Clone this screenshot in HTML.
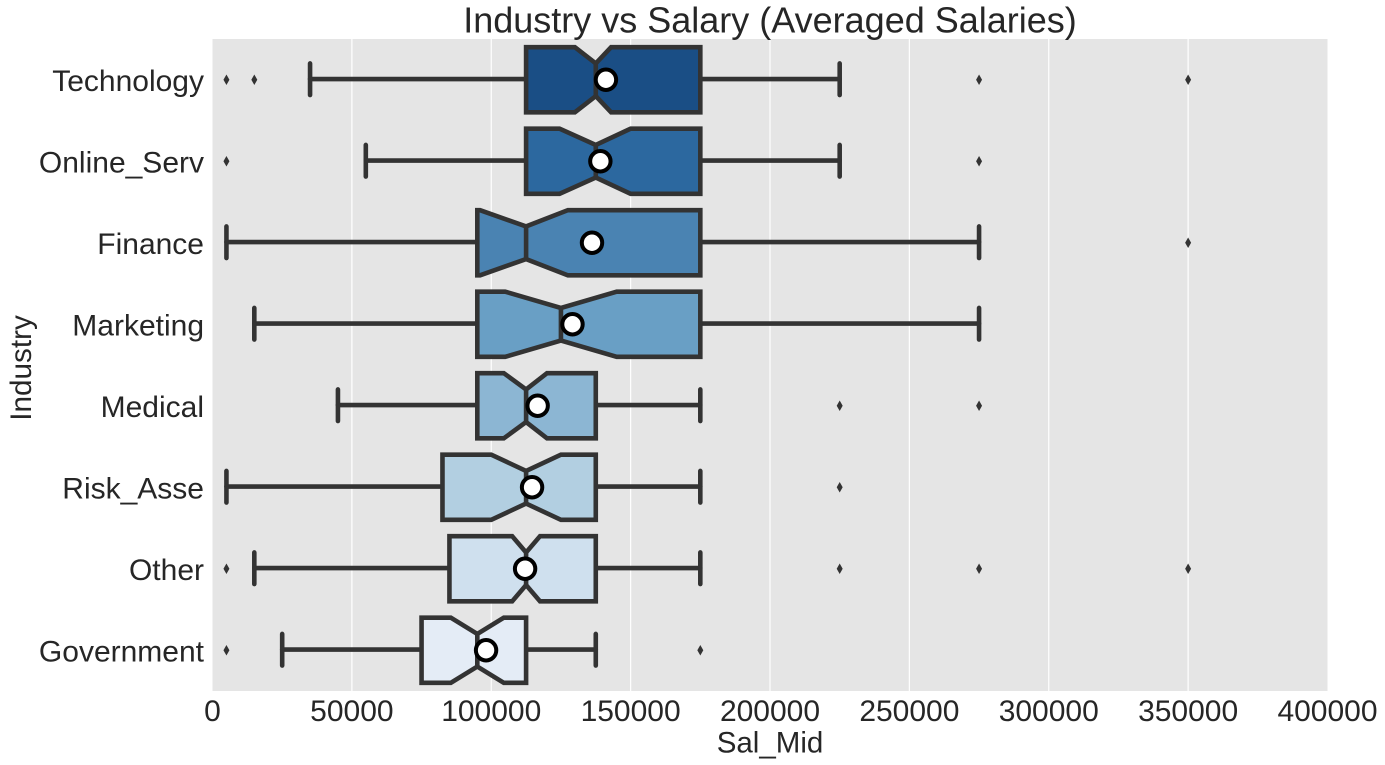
<!DOCTYPE html>
<html lang="en">
<head>
<meta charset="utf-8">
<title>Industry vs Salary (Averaged Salaries)</title>
<style>
html,body{margin:0;padding:0;background:#fff;}
svg{display:block;font-family:"Liberation Sans",Arial,sans-serif;}
</style>
</head>
<body>
<svg id="chart" width="1385" height="765" viewBox="0 0 1385 765" xmlns="http://www.w3.org/2000/svg"></svg>
<script>
const categories = ['Technology','Online_Serv','Finance','Marketing','Medical','Risk_Asse','Other','Government'];
const whiskerLow  = [35000,55000,5000,15000,45000,5000,15000,25000];
const q1Values    = [112500,112500,95000,95000,95000,82500,85000,75000];
const notchLow    = [130000,124500,96000,105000,104500,100000,107500,85500];
const medians     = [137500,137500,112500,125000,112500,112500,112500,95000];
const notchHigh   = [143000,150000,127500,145000,120000,125000,117500,104500];
const q3Values    = [175000,175000,175000,175000,137500,137500,137500,112500];
const whiskerHigh = [225000,225000,275000,275000,175000,175000,175000,137500];
const means       = [141000,139000,136000,129000,116500,114500,112000,98000];
const fliers      = [[5000,15000,275000,350000],[5000,275000],[350000],[],[225000,275000],[225000],[5000,225000,275000,350000],[5000,175000]];
const boxColors   = ['#1a4e85','#2c689f','#4a83b2','#699fc5','#8cb6d3','#b2cfe1','#cfe0ee','#e4ecf6'];
const xTicks      = [0,50000,100000,150000,200000,250000,300000,350000,400000];

const plotLeft = 212.5, plotRight = 1327.5, plotTop = 39, plotBottom = 691;
const xMax = 400000;
const bandHeight = (plotBottom - plotTop) / categories.length;
const lineColor = '#333333';
const lineWidth = 4.6;
const NS = 'http://www.w3.org/2000/svg';
const svg = document.getElementById('chart');

function xScale(v){ return plotLeft + (v / xMax) * (plotRight - plotLeft); }
function yScale(i){ return plotTop + bandHeight * (i + 0.5); }

function make(tag, attrs, parent){
  const el = document.createElementNS(NS, tag);
  for (const k in attrs) el.setAttribute(k, attrs[k]);
  (parent || svg).appendChild(el);
  return el;
}

const bg = make('rect', {x:plotLeft, y:plotTop, width:plotRight-plotLeft, height:plotBottom-plotTop, fill:'#e5e5e5'});



xTicks.forEach(function(t){
  const x = xScale(t);
  if (t > 0 && t < xMax) {
    const g = make('line', {x1:x, x2:x, y1:plotTop, y2:plotBottom, stroke:'#ffffff', 'stroke-width':1.2});
    
    
  }
  const lbl = make('text', {x:x, y:721, 'text-anchor':'middle', 'font-size':30, fill:'#262626'});
  lbl.textContent = String(t);
  
  
});

categories.forEach(function(name, i){
  const y = yScale(i);
  const half = bandHeight * 0.4;
  const waist = half / 2;
  const capHalf = bandHeight * 0.2;
  const group = make('g', {});
  
  

  const lbl = make('text', {x:204, y:y + 11, 'text-anchor':'end', 'font-size':30, fill:'#262626'});
  lbl.textContent = name;
  
  

  const strokeAttrs = {stroke:lineColor, 'stroke-width':lineWidth, 'stroke-linecap':'round', fill:'none'};

  const w1 = make('line', Object.assign({x1:xScale(q1Values[i]), x2:xScale(whiskerLow[i]), y1:y-0.7, y2:y-0.7}, strokeAttrs), group);
  
  
  const w2 = make('line', Object.assign({x1:xScale(q3Values[i]), x2:xScale(whiskerHigh[i]), y1:y-0.7, y2:y-0.7}, strokeAttrs), group);
  
  
  const c1 = make('line', Object.assign({x1:xScale(whiskerLow[i]), x2:xScale(whiskerLow[i]), y1:y-capHalf, y2:y+capHalf-1}, strokeAttrs), group);
  
  
  const c2 = make('line', Object.assign({x1:xScale(whiskerHigh[i]), x2:xScale(whiskerHigh[i]), y1:y-capHalf, y2:y+capHalf-1}, strokeAttrs), group);
  
  

  const pts = [
    [xScale(q1Values[i]), y-half],
    [xScale(notchLow[i]), y-half],
    [xScale(medians[i]), y-waist],
    [xScale(notchHigh[i]), y-half],
    [xScale(q3Values[i]), y-half],
    [xScale(q3Values[i]), y+half],
    [xScale(notchHigh[i]), y+half],
    [xScale(medians[i]), y+waist],
    [xScale(notchLow[i]), y+half],
    [xScale(q1Values[i]), y+half]
  ];
  const box = make('path', {
    d:'M' + pts.map(function(p){ return p[0].toFixed(2) + ' ' + p[1].toFixed(2); }).join('L') + 'Z',
    fill:boxColors[i], stroke:lineColor, 'stroke-width':lineWidth, 'stroke-linejoin':'miter'
  }, group);
  
  

  const med = make('line', {x1:xScale(medians[i]), x2:xScale(medians[i]), y1:y-waist, y2:y+waist, stroke:lineColor, 'stroke-width':lineWidth}, group);
  
  

  fliers[i].forEach(function(v){
    const fx = xScale(v);
    const f = make('path', {d:'M'+fx+' '+(y-5.2)+'L'+(fx+3)+' '+y+'L'+fx+' '+(y+5.2)+'L'+(fx-3)+' '+y+'Z', fill:lineColor}, group);
    
    
  });

  const m = make('circle', {cx:xScale(means[i]) + 0.4, cy:y, r:10.2, fill:'#ffffff', stroke:'#000000', 'stroke-width':4}, group);
  
  
});

const title = make('text', {x:770, y:32.5, 'text-anchor':'middle', 'font-size':36, fill:'#262626'});
title.textContent = 'Industry vs Salary (Averaged Salaries)';



const xTitle = make('text', {x:770, y:752.5, 'text-anchor':'middle', 'font-size':29.5, fill:'#262626'});
xTitle.textContent = 'Sal_Mid';



const yTitle = make('text', {x:0, y:0, 'text-anchor':'middle', 'font-size':29.7, fill:'#262626', transform:'translate(31 368) rotate(-90)'});
yTitle.textContent = 'Industry';


</script>
</body>
</html>
